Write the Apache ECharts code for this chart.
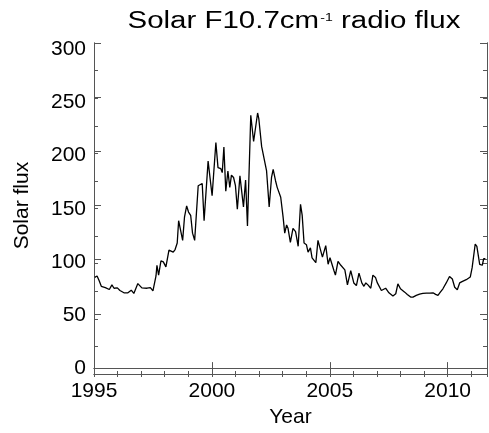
<!DOCTYPE html>
<html>
<head>
<meta charset="utf-8">
<title>Solar F10.7 radio flux</title>
<script src="https://cdn.jsdelivr.net/npm/echarts@6/dist/echarts.min.js"></script>
<style>
  html, body { margin: 0; padding: 0; background: #fff; }
  #chart { width: 489px; height: 433px; }
</style>
</head>
<body>
<div id="chart"></div>
<script>
// Decimal year of each sample
const years = [
  1995.03, 1995.13, 1995.22, 1995.31, 1995.48, 1995.65, 1995.76, 1995.85, 1995.99,
  1996.10, 1996.27, 1996.44, 1996.58, 1996.69, 1996.86, 1997.03, 1997.25, 1997.39,
  1997.50, 1997.63, 1997.67, 1997.74, 1997.84, 1997.94, 1998.05, 1998.11, 1998.18,
  1998.26, 1998.36, 1998.44, 1998.53, 1998.59, 1998.67, 1998.76, 1998.84, 1998.93,
  1999.01, 1999.10, 1999.18, 1999.27, 1999.42, 1999.50, 1999.59, 1999.67, 1999.84,
  2000.01, 2000.17, 2000.26, 2000.38, 2000.44, 2000.51, 2000.59, 2000.68, 2000.76,
  2000.83, 2000.92, 2001.00, 2001.08, 2001.19, 2001.26, 2001.34, 2001.43, 2001.51,
  2001.65, 2001.77, 2001.82, 2001.94, 2001.99, 2002.11, 2002.19, 2002.32, 2002.43,
  2002.53, 2002.60, 2002.70, 2002.77, 2002.84, 2002.92, 2003.02, 2003.09, 2003.17,
  2003.23, 2003.33, 2003.44, 2003.55, 2003.66, 2003.76, 2003.83, 2003.91, 2004.01,
  2004.08, 2004.18, 2004.25, 2004.41, 2004.50, 2004.61, 2004.69, 2004.83, 2004.93,
  2005.01, 2005.18, 2005.24, 2005.35, 2005.47, 2005.64, 2005.75, 2005.89, 2006.02,
  2006.13, 2006.24, 2006.36, 2006.45, 2006.53, 2006.62, 2006.74, 2006.83, 2006.94,
  2007.02, 2007.19, 2007.37, 2007.51, 2007.68, 2007.80, 2007.89, 2008.00, 2008.08,
  2008.18, 2008.29, 2008.43, 2008.53, 2008.67, 2008.81, 2008.95, 2009.10, 2009.24,
  2009.38, 2009.49, 2009.59, 2009.69, 2009.80, 2009.94, 2010.08, 2010.20, 2010.30,
  2010.41, 2010.51, 2010.61, 2010.79, 2010.96, 2011.04, 2011.17, 2011.24, 2011.36,
  2011.47, 2011.53, 2011.60
];

// Solar F10.7 flux (solar flux units) at each sample
const flux = [
  83.7, 85.0, 80.7, 75.5, 74.3, 72.5, 76.8, 73.7, 74.0,
  71.6, 69.5, 69.5, 71.9, 68.9, 78.0, 74.0, 73.7, 74.3,
  71.3, 85.0, 94.9, 85.8, 99.0, 98.0, 93.4, 92.8, 108.8,
  107.9, 107.0, 109.4, 115.4, 136.0, 137.8, 117.9, 139.6, 149.6,
  144.0, 141.0, 124.5, 117.9, 168.3, 167.4, 170.4, 136.0, 191.0,
  159.0, 208.2, 185.0, 184.0, 180.4, 204.0, 163.2, 181.9, 166.8,
  178.0, 175.9, 168.3, 146.6, 177.4, 178.0, 148.7, 173.5, 131.2,
  233.3, 209.1, 210.6, 235.4, 230.3, 204.6, 203.7, 181.9, 148.7,
  175.9, 183.4, 172.9, 166.8, 168.3, 157.7, 139.6, 124.5, 132.1,
  129.0, 116.0, 129.0, 126.0, 112.4, 151.1, 141.2, 115.4, 113.9,
  107.0, 110.9, 101.8, 97.3, 117.9, 108.8, 102.4, 113.0, 95.8,
  101.8, 89.8, 85.8, 98.5, 94.9, 90.7, 76.8, 90.0, 78.6,
  76.2, 87.7, 78.6, 75.5, 78.6, 76.8, 73.7, 85.8, 83.7,
  78.6, 71.6, 73.7, 69.5, 66.5, 68.6, 77.7, 73.2, 72.3,
  70.1, 68.0, 65.5, 65.5, 67.1, 68.3, 68.9, 69.2, 69.2,
  69.5, 68.0, 67.1, 70.1, 73.2, 78.6, 84.6, 82.2, 74.6,
  72.3, 78.6, 79.8, 81.6, 84.0, 92.7, 114.5, 112.4, 95.8,
  94.9, 100.9, 100.9
];

const xMin = 1995, xMax = 2011.67;
const yMin = 0, yMax = 300;

const FONT = '"Liberation Sans", Arial, Helvetica, sans-serif';
const AXIS_COLOR = '#555';

const points = years.map((y, i) => [y, flux[i]]);

const gridBox = { left: 94, right: 2, top: 43, bottom: 59 };
// y tick labels sit slightly inside the frame at both ends
const yLabelBox = { left: 94, right: 2, top: 49, bottom: 64.5 };

function xAxisDef(gridIndex, position, interval, tickLen, showLabels, name) {
  return {
    type: 'value', gridIndex, position, min: xMin, max: xMax, interval,
    name: name || '', nameLocation: 'middle', nameGap: 37,
    nameTextStyle: { fontFamily: FONT, fontSize: 21, color: '#000' },
    axisLine: { show: true, lineStyle: { color: AXIS_COLOR, width: 1 } },
    axisTick: { show: true, inside: true, length: tickLen, lineStyle: { color: AXIS_COLOR } },
    axisLabel: {
      show: showLabels, margin: 13, fontFamily: FONT, fontSize: 21, color: '#000',
      showMinLabel: true, showMaxLabel: false,
      formatter: v => String(Math.round(v))
    },
    splitLine: { show: false }
  };
}

function yAxisDef(gridIndex, position, interval, tickLen, name) {
  return {
    type: 'value', gridIndex, position, min: yMin, max: yMax, interval,
    name: name || '', nameLocation: 'middle', nameGap: 61, nameRotate: 90,
    nameTextStyle: { fontFamily: FONT, fontSize: 21, color: '#000' },
    axisLine: { show: true, lineStyle: { color: AXIS_COLOR, width: 1 } },
    axisTick: { show: true, inside: true, length: tickLen, lineStyle: { color: AXIS_COLOR } },
    axisLabel: { show: false },
    splitLine: { show: false }
  };
}

const chart = echarts.init(document.getElementById('chart'), null, { renderer: 'canvas' });

chart.setOption({
  animation: false,
  backgroundColor: '#fff',
  graphic: [{
    type: 'text',
    x: 294, y: 8,
    scaleX: 1.28,
    style: {
      text: '{b|Solar F10.7cm}{s|-1}{b| radio flux}',
      align: 'center',
      verticalAlign: 'top',
      rich: {
        b: { fontFamily: FONT, fontSize: 23, fill: '#000', lineHeight: 27 },
        s: { fontFamily: FONT, fontSize: 11, fill: '#000', verticalAlign: 'top', padding: [4, 0, 0, 1] }
      }
    }
  }],
  grid: [
    Object.assign({}, gridBox),
    Object.assign({}, gridBox),
    Object.assign({}, yLabelBox)
  ],
  xAxis: [
    xAxisDef(0, 'bottom', 5, 6, true, 'Year'),
    xAxisDef(0, 'top', 5, 6, false),
    xAxisDef(1, 'bottom', 1, 3, false),
    xAxisDef(1, 'top', 1, 3, false),
    { type: 'value', gridIndex: 2, min: xMin, max: xMax, show: false }
  ],
  yAxis: [
    yAxisDef(0, 'left', 50, 7, 'Solar flux'),
    yAxisDef(0, 'right', 50, 7),
    yAxisDef(1, 'left', 25, 4),
    yAxisDef(1, 'right', 25, 4),
    {
      type: 'value', gridIndex: 2, position: 'left', min: yMin, max: yMax, interval: 50,
      axisLine: { show: false }, axisTick: { show: false }, splitLine: { show: false },
      axisLabel: { show: true, margin: 8, fontFamily: FONT, fontSize: 21, color: '#000' }
    }
  ],
  series: [{
    type: 'line',
    xAxisIndex: 0,
    yAxisIndex: 0,
    data: points,
    showSymbol: false,
    symbol: 'none',
    lineStyle: { color: '#000', width: 1.3 },
    silent: true
  }]
});
</script>
</body>
</html>
